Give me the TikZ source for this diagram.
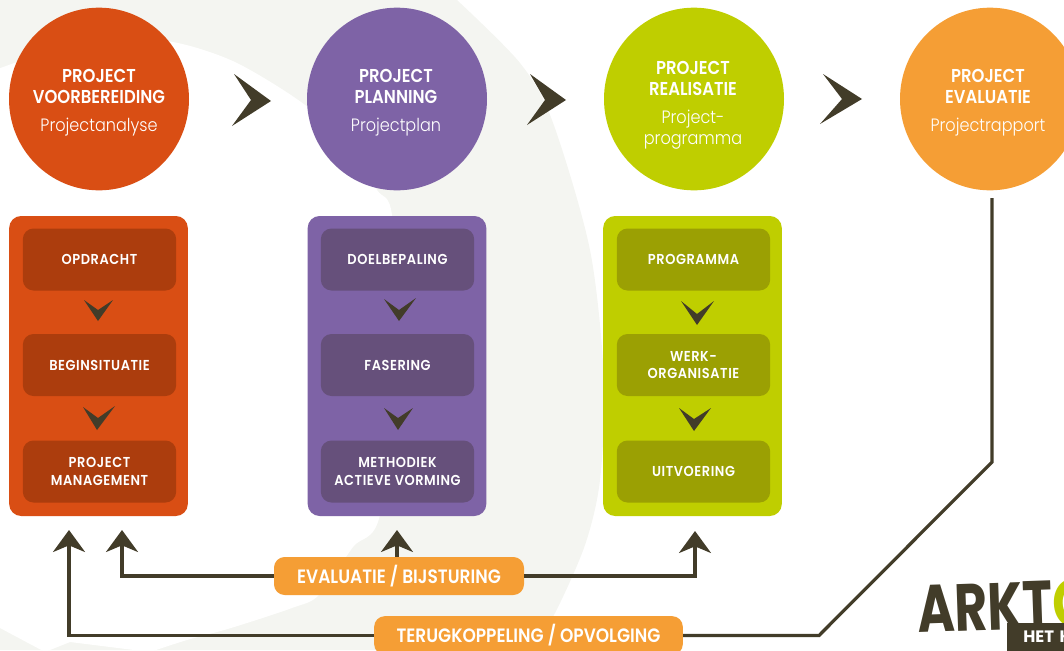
\documentclass[tikz,border=0pt]{standalone}
\usepackage{fontspec}
\setmainfont{Poppins}
\newfontfamily\headfont[FakeStretch=0.88]{Poppins SemiBold}
\newfontfamily\subfont[FakeStretch=0.9]{Poppins Light}
\newfontfamily\boxfont[FakeStretch=0.9,LetterSpace=4]{Poppins SemiBold}
\usetikzlibrary{arrows.meta,shapes.geometric}
\definecolor{rust}{HTML}{D94E14}
\definecolor{rustdark}{HTML}{AC3D0D}
\definecolor{violet}{HTML}{7E63A6}
\definecolor{violetdark}{HTML}{66507B}
\definecolor{lime}{HTML}{BFCE00}
\definecolor{limedark}{HTML}{9BA003}
\definecolor{amber}{HTML}{F59E35}
\definecolor{umber}{HTML}{423C29}
\definecolor{mist}{HTML}{F4F5F1}
\newcommand{\stagesub}{\subfont\fontsize{13.4}{15}\selectfont}
\newcommand{\lift}[1]{\rule{0pt}{#1}}
\tikzset{
  stage/.style={ellipse,inner sep=0pt,minimum width=135pt,minimum height=137pt},
  stagetext/.style={inner sep=0pt,text=white,align=center,
    font=\headfont\fontsize{14}{15.8}\selectfont},
  panel/.style={rounded corners=9pt,inner sep=0pt,minimum width=134pt,minimum height=225pt},
  substep/.style={rounded corners=8pt,inner sep=0pt,minimum width=115pt,minimum height=46.5pt,text=white,align=center,
    text depth=0pt,font=\boxfont\fontsize{10.8}{13.4}\selectfont},
  feedback/.style={rounded corners=8pt,inner sep=0pt,fill=amber,text=white,
    font=\headfont\fontsize{14.5}{15}\selectfont},
  flow/.style={draw=umber,line width=2.4pt,-{Stealth[length=16.5pt,width=24pt,inset=5pt]}},
  plainflow/.style={draw=umber,line width=2.4pt},
  chevron/.style={fill=umber}
}
\begin{document}
\begin{tikzpicture}[x=0.75pt,y=-0.75pt]
  \useasboundingbox (0,0) rectangle (1064,650);
  \clip (0,0) rectangle (1064,650);

  % background swoosh
  \fill[mist] (0,0) -- plot[smooth] coordinates {(457,0) (520,63) (552,120) (590,250) (604,380) (600,480) (585,545) (555,613) (530,650)} -- (0,650) -- cycle;
  \fill[white] plot[smooth] coordinates {(-5,70) (60,48) (120,38) (178,43) (237,63) (305,105) (350,150) (377,190) (392,215) (400,350) (380,515) (353,547) (319,595) (292,608) (231,628) (187,640) (150,652)} -- (70,642) -- (45,652) -- (0,628) -- cycle;

  % stages
  \node[stage,fill=rust] (voorbereiding) at (99,99) {};
  \node[stage,fill=violet] (planning) at (397,99) {};
  \node[stage,fill=lime] (realisatie) at (694,99) {};
  \node[stage,fill=amber] (evaluatie) at (990,99) {};
  \node[stagetext] (voorbereidingText) at (99,99) {\lift{15pt}PROJECT\\VOORBEREIDING\\[5pt]\stagesub Projectanalyse};
  \node[stagetext] (planningText) at (396,99) {\lift{15pt}PROJECT\\PLANNING\\[5pt]\stagesub Projectplan};
  \node[stagetext] (realisatieText) at (693,99) {\lift{19pt}PROJECT\\REALISATIE\\[5pt]\stagesub Project-\\\stagesub programma};
  \node[stagetext] (evaluatieText) at (988,99) {\lift{15pt}PROJECT\\EVALUATIE\\[5pt]\stagesub Projectrapport};

  \fill[chevron] (234,74) -- (271,101) -- (232,126) -- (251,100) -- cycle;
  \fill[chevron] (530,74) -- (566,100) -- (527,125) -- (545,100) -- cycle;
  \fill[chevron] (823,74) -- (862,99) -- (820,124) -- (842,99) -- cycle;

  % panels
  \node[panel,fill=rust] (panelA) at (98.5,366) {};
  \node[panel,fill=violet] (panelB) at (397,366) {};
  \node[panel,fill=lime] (panelC) at (692.5,366) {};

  \node[substep,fill=rustdark] (opdracht) at (99.5,259.5) {OPDRACHT};
  \node[substep,fill=rustdark] (beginsituatie) at (99.5,365) {BEGINSITUATIE};
  \node[substep,fill=rustdark] (management) at (99.5,471.5) {PROJECT\\MANAGEMENT};
  \node[substep,fill=violetdark] (doelbepaling) at (397.5,259.5) {DOELBEPALING};
  \node[substep,fill=violetdark] (fasering) at (397.5,365) {FASERING};
  \node[substep,fill=violetdark] (methodiek) at (397.5,471.5) {METHODIEK\\ACTIEVE VORMING};
  \node[substep,fill=limedark] (programma) at (693.5,259.5) {PROGRAMMA};
  \node[substep,fill=limedark] (organisatie) at (693.5,365) {WERK-\\ORGANISATIE};
  \node[substep,fill=limedark] (uitvoering) at (693.5,471.5) {UITVOERING};

  \fill[chevron] (84,300) -- (98,310) -- (113,300) -- (98,321) -- cycle;
  \fill[chevron] (83,407) -- (98,418) -- (115,406) -- (97,430) -- cycle;
  \fill[chevron] (384,299) -- (399,310) -- (416,298) -- (399,321) -- cycle;
  \fill[chevron] (384,408) -- (398,418) -- (413,408) -- (398,430) -- cycle;
  \fill[chevron] (681,301) -- (697,314) -- (714,301) -- (697,325) -- cycle;
  \fill[chevron] (679,408) -- (694,419) -- (711,408) -- (694,431) -- cycle;

  % feedback lines
  \node[feedback,minimum width=187.5pt,minimum height=28.5pt] (bijsturing) at (399,576) {EVALUATIE / BIJSTURING};
  \node[feedback,minimum width=231.5pt,minimum height=29pt] (opvolging) at (528.5,635.5) {TERUGKOPPELING / OPVOLGING};

  \coordinate (tipA) at (69,530);
  \coordinate (tipB) at (122,530);
  \coordinate (tipC) at (397,530);
  \coordinate (tipD) at (695,531);
  \coordinate (kink) at (819,635.5);
  \coordinate (drop) at (992,462);
  \coordinate (start) at (992,198);

  \draw[flow] (bijsturing.west) -| (tipB);
  \draw[flow] (bijsturing.north -| tipC) -- (tipC);
  \draw[flow] (bijsturing.east) -| (tipD);
  \draw[flow] (opvolging.west) -| (tipA);
  \draw[plainflow] (opvolging.east) -- (kink) -- (drop) -- (start);

  % logo
  \node[anchor=west,inner sep=0pt,rotate=2,xscale=0.76,transform shape,text=umber,font=\bfseries\fontsize{50}{50}\selectfont] (arkto) at (917,609) {ARKT\textcolor{lime}{O}};
  \node[anchor=west,fill=umber,text=white,inner sep=0pt,minimum height=21pt,minimum width=60pt,text width=60pt,font=\bfseries\fontsize{12.4}{14}\selectfont] (tagline) at (1007,637) {\hspace{12pt}HET K};
\end{tikzpicture}
\end{document}
